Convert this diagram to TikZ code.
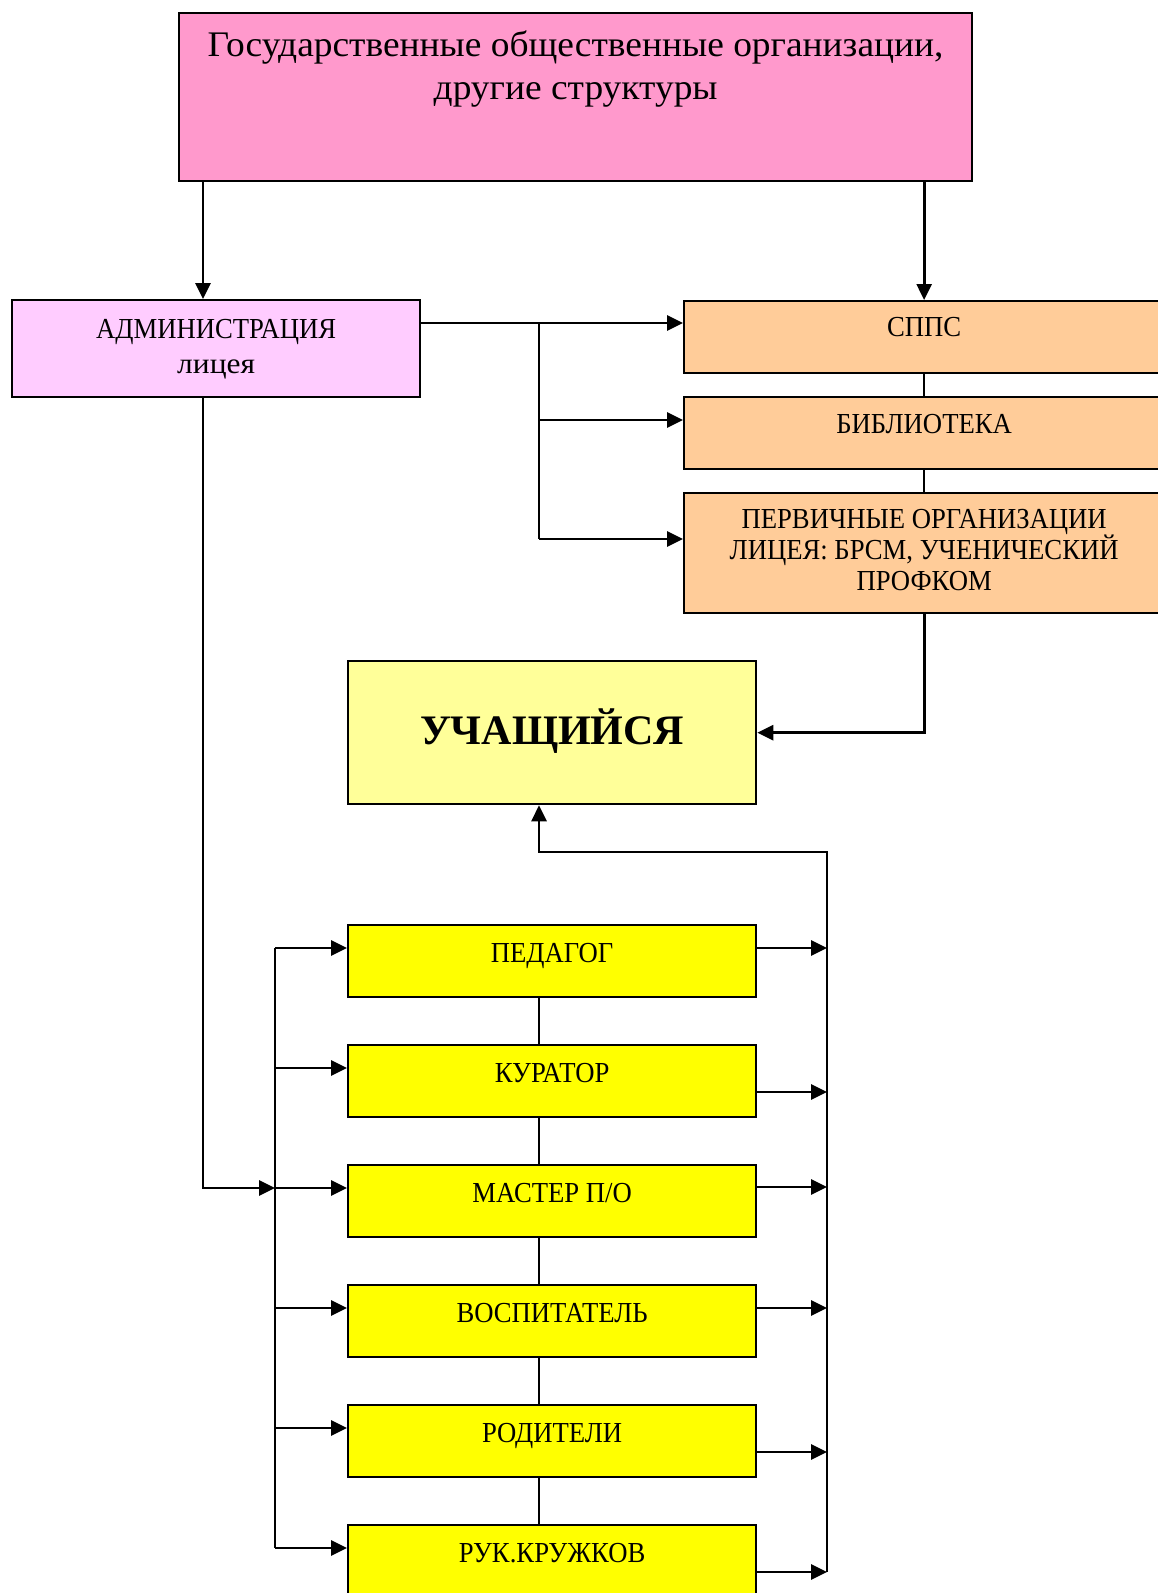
\documentclass[tikz,border=0pt]{standalone}
\usepackage{fontspec}
\usepackage{graphicx}
\setmainfont{Liberation Serif}
\newfontfamily\smallf{Liberation Serif}[FakeStretch=0.92]
\newfontfamily\topf{Liberation Serif}[FakeStretch=1.04]
\usetikzlibrary{arrows.meta,calc}
\definecolor{cPink}{HTML}{FF99CC}
\definecolor{cAdm}{HTML}{FFCCFF}
\definecolor{cOr}{HTML}{FFCC99}
\definecolor{cUch}{HTML}{FFFF99}
\definecolor{cYel}{HTML}{FFFF00}
\newcommand\btext[4]{\parbox[c][#2][t]{#1}{\centering\vspace*{\dimexpr#3-1em\relax}\rule{0pt}{1em}#4\par}}
\begin{document}
\begin{tikzpicture}[x=1pt,y=-1pt,
  bx/.style={draw, line width=2.3pt, inner sep=0pt, anchor=north west},
  arr/.style={line width=2.8pt, -{Triangle[length=16pt,width=15pt]}},
  ln/.style={line width=2pt},
  sf/.style={font=\smallf\fontsize{29}{35}\selectfont}]
\useasboundingbox (0,0) rectangle (1157,1593);
% boxes
\node[bx, fill=cPink, font=\topf\fontsize{36}{43.5}\selectfont] (top) at (178,12)
  {\btext{793pt}{168pt}{43pt}{Государственные общественные организации,\\другие структуры}};
\node[bx, fill=cAdm, sf] (adm) at (11,299) {\btext{408pt}{97pt}{38pt}{АДМИНИСТРАЦИЯ\\\scalebox{1.18}[1]{лицея}}};
\node[bx, fill=cOr, sf] (spps) at (683,300) {\btext{480pt}{72pt}{35pt}{СППС}};
\node[bx, fill=cOr, sf] (bib) at (683,396) {\btext{480pt}{72pt}{36pt}{БИБЛИОТЕКА}};
\node[bx, fill=cOr, font=\smallf\fontsize{29}{30.5}\selectfont] (perv) at (683,492)
  {\btext{480pt}{120pt}{35pt}{ПЕРВИЧНЫЕ ОРГАНИЗАЦИИ\\ЛИЦЕЯ: БРСМ, УЧЕНИЧЕСКИЙ\\ПРОФКОМ}};
\node[bx, fill=cUch, font=\bfseries\fontsize{42}{48}\selectfont] (uch) at (347,660) {\btext{408pt}{143pt}{83pt}{УЧАЩИЙСЯ}};
\node[bx, fill=cYel, sf] (ped) at (347,924)  {\btext{408pt}{72pt}{37pt}{ПЕДАГОГ}};
\node[bx, fill=cYel, sf] (kur) at (347,1044) {\btext{408pt}{72pt}{37pt}{КУРАТОР}};
\node[bx, fill=cYel, sf] (mas) at (347,1164) {\btext{408pt}{72pt}{37pt}{МАСТЕР П/О}};
\node[bx, fill=cYel, sf] (vos) at (347,1284) {\btext{408pt}{72pt}{37pt}{ВОСПИТАТЕЛЬ}};
\node[bx, fill=cYel, sf] (rod) at (347,1404) {\btext{408pt}{72pt}{37pt}{РОДИТЕЛИ}};
\node[bx, fill=cYel, sf] (ruk) at (347,1524) {\btext{408pt}{72pt}{37pt}{РУК.КРУЖКОВ}};
% helper coordinates
\coordinate (tA) at (203,0);
\coordinate (r1) at (0,323);
\coordinate (r2) at (0,420);
\coordinate (r3) at (0,539);
\coordinate (jx) at (539,0);
\coordinate (lb) at (275,0);
\coordinate (rb) at (827,0);
\coordinate (btop) at (0,852);
\path ([yshift=-24pt]ped.north west) coordinate (pL1) ([yshift=-24pt]ped.north east) coordinate (pR1)
      ([yshift=-24pt]kur.north west) coordinate (pL2) ([yshift=-48pt]kur.north east) coordinate (pR2)
      ([yshift=-24pt]mas.north west) coordinate (pL3) ([yshift=-23pt]mas.north east) coordinate (pR3)
      ([yshift=-24pt]vos.north west) coordinate (pL4) ([yshift=-24pt]vos.north east) coordinate (pR4)
      ([yshift=-24pt]rod.north west) coordinate (pL5) ([yshift=-48pt]rod.north east) coordinate (pR5)
      ([yshift=-24pt]ruk.north west) coordinate (pL6) ([yshift=-48pt]ruk.north east) coordinate (pR6);
% upper connectors
\draw[arr] (tA |- top.south) -- (tA |- adm.north);
\draw[arr] (top.south -| spps.north) -- (spps.north);
\draw[arr] (r1 -| adm.east) -- (r1 -| spps.west);
\draw[ln] (jx |- r1) -- (jx |- r3);
\draw[arr] (jx |- r2) -- (r2 -| bib.west);
\draw[arr] (jx |- r3) -- (r3 -| perv.west);
\draw[ln] (spps.south) -- (bib.north);
\draw[ln] (bib.south) -- (perv.north);
\draw[arr] (perv.south) |- (uch.east);
% right bus to student
\draw[arr] (rb |- pR6) -- (rb |- btop) -| (jx |- uch.south);
% left bus and admin line
\draw[ln] (lb |- pL1) -- (lb |- pL6);
\draw[arr] (tA |- adm.south) |- (lb |- pL3);
% row arrows
\foreach \i in {1,...,6}{
  \draw[arr] (pL\i -| lb) -- (pL\i);
  \draw[arr] (pR\i) -- (pR\i -| rb);
}
% vertical links between yellow boxes
\draw[ln] (jx |- ped.south) -- (jx |- kur.north);
\draw[ln] (jx |- kur.south) -- (jx |- mas.north);
\draw[ln] (jx |- mas.south) -- (jx |- vos.north);
\draw[ln] (jx |- vos.south) -- (jx |- rod.north);
\draw[ln] (jx |- rod.south) -- (jx |- ruk.north);
\end{tikzpicture}
\end{document}
